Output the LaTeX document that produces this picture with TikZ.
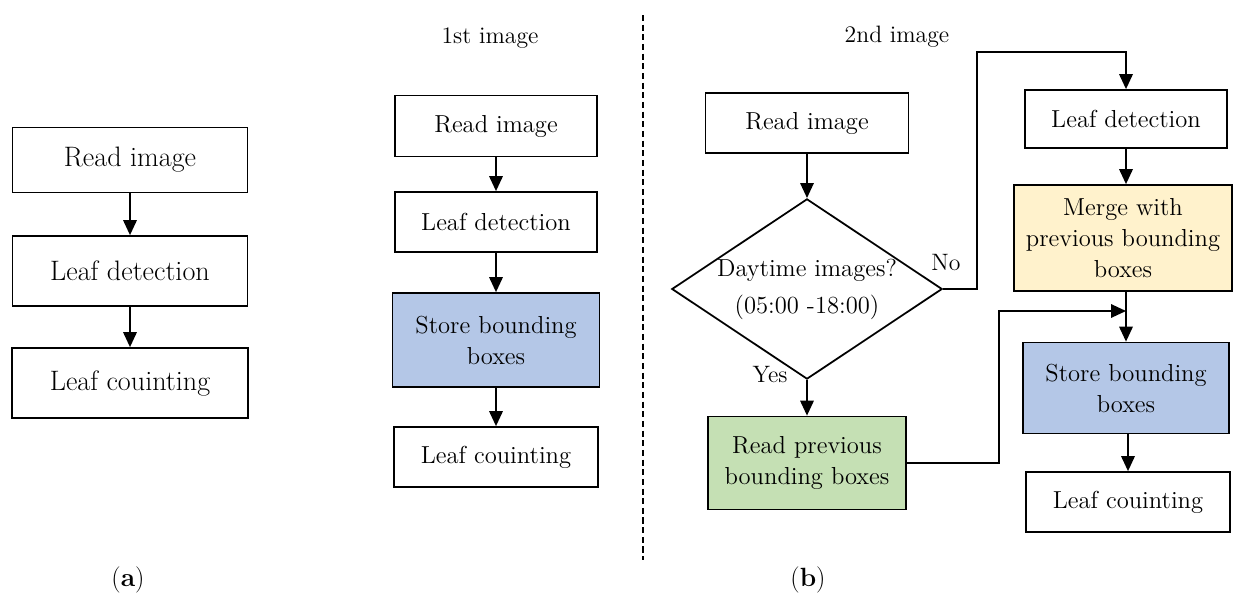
\documentclass[tikz,border=0pt]{standalone}
\usetikzlibrary{arrows.meta,shapes.geometric}
\definecolor{boxblue}{HTML}{B4C7E7}
\definecolor{boxgreen}{HTML}{C5E0B4}
\definecolor{boxyellow}{HTML}{FFF2CC}
\begin{document}
\begin{tikzpicture}[x=0.02cm, y=-0.02cm,
    box/.style={draw=black, line width=1pt, inner sep=2pt, align=center, font=\fontsize{14}{17.6}\selectfont},
    bigbox/.style={box, font=\fontsize{16}{19}\selectfont},
    arr/.style={draw=black, line width=1pt, -{Triangle[length=3mm,width=2.7mm]}},
    lbl/.style={font=\fontsize{13.5}{16}\selectfont}]
            \useasboundingbox (0,0) rectangle (1234,599);
            \node[bigbox, minimum width=4.7cm, minimum height=1.3cm] (reada) at (130,160) {Read image};
            \node[bigbox, minimum width=4.7cm, minimum height=1.4cm] (deta) at (130,271) {Leaf detection};
            \node[bigbox, minimum width=4.72cm, minimum height=1.4cm] (counta) at (130,383) {Leaf couinting};
            \draw[arr] (reada) -- (deta);
            \draw[arr] (deta) -- (counta);
            \node[lbl, font=\fontsize{15}{18}\selectfont] (tagA) at (128,580) {(\textbf{a})};
            \node[lbl] (titleA) at (490,38) {1st image};
            \node[box, minimum width=4.04cm, minimum height=1.22cm] (readb) at (496,126) {Read image};
            \node[box, minimum width=4.04cm, minimum height=1.2cm] (detb) at (496,222) {Leaf detection};
            \node[box, fill=boxblue, minimum width=4.14cm, minimum height=1.88cm] (storeb) at (496,340) {Store bounding\\boxes};
            \node[box, minimum width=4.08cm, minimum height=1.2cm] (countb) at (496,457) {Leaf couinting};
            \draw[arr] (readb) -- (detb);
            \draw[arr] (detb) -- (storeb);
            \draw[arr] (storeb) -- (countb);
            \draw[black, line width=0.6pt, dash pattern=on 3.5pt off 2pt] (643,15) -- (643,560);
            \node[lbl] (titleB) at (897,37) {2nd image};
            \node[box, minimum width=4.06cm, minimum height=1.2cm] (readc) at (807,123) {Read image};
            \node[box, shape=diamond, aspect=1.5, inner sep=0pt, minimum width=5.4cm, minimum height=3.58cm, font=\fontsize{14}{21}\selectfont] (day) at (807,289) {Daytime images?\\(05:00 -18:00)};
            \node[box, fill=boxgreen, minimum width=3.96cm, minimum height=1.86cm] (prev) at (807,463) {Read previous\\bounding boxes};
            \node[box, minimum width=4.04cm, minimum height=1.16cm] (detc) at (1126,119) {Leaf detection};
            \node[box, fill=boxyellow, minimum width=4.36cm, minimum height=2.12cm] (merge) at (1123,238) {Merge with\\previous bounding\\boxes};
            \node[box, fill=boxblue, minimum width=4.12cm, minimum height=1.82cm] (storec) at (1126,388) {Store bounding\\boxes};
            \node[box, minimum width=4.08cm, minimum height=1.2cm] (countc) at (1128,502) {Leaf couinting};
            \coordinate (nobend) at (977,52);
            \coordinate (yesbend) at (999,311);
            \coordinate (join) at (1126,311);
            \draw[arr] (readc) -- (day);
            \draw[arr] (day) -- (prev);
            \draw[arr] (day.east) -| (nobend) -| (detc.north);
            \draw[arr] (detc.south -| join) -- (merge.north -| join);
            \draw[arr] (merge.south -| join) -- (storec.north -| join);
            \draw[arr] (prev.east) -| (yesbend) -- (join);
            \draw[arr] (storec.south -| countc) -- (countc);
            \node[lbl] (yes) at (770,375) {Yes};
            \node[lbl] (no) at (946,263) {No};
            \node[lbl, font=\fontsize{15}{18}\selectfont] (tagB) at (808,580) {(\textbf{b})};
        \end{tikzpicture}
\end{document}
